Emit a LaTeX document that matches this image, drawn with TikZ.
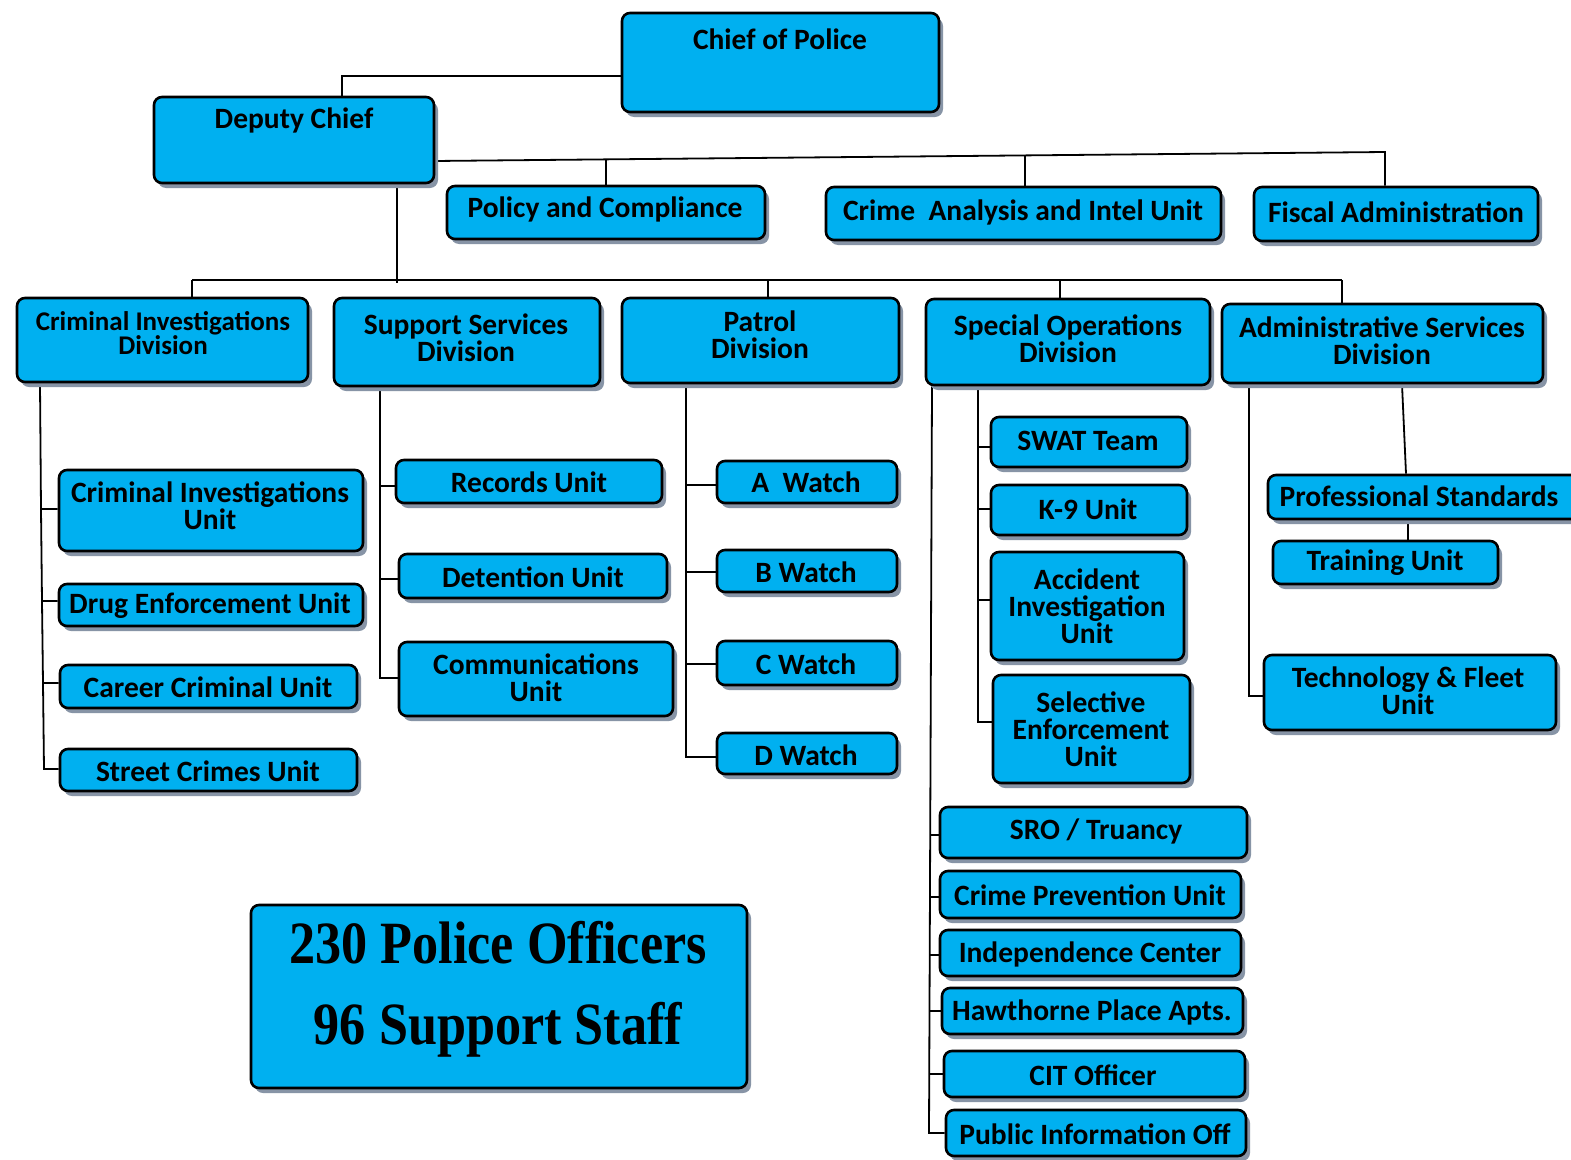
\documentclass[tikz,border=0pt]{standalone}
\usepackage{fontspec}
\setmainfont{Carlito}
\newfontfamily\bigfont{Liberation Serif}
\usetikzlibrary{shadows}
\definecolor{boxblue}{RGB}{0,176,240}
\definecolor{shgray}{RGB}{135,148,166}
\pgfdeclarelayer{background}
\pgfdeclarelayer{bg}
\pgfsetlayers{bg,background,main}
\tikzset{
  ubox/.style={draw=black, line width=2.6pt, fill=boxblue, rounded corners=8pt, inner sep=0pt,
    general shadow={fill=shgray, shadow xshift=4pt, shadow yshift=-5pt}},
  txt/.style={font=\fontsize{29.5}{27}\selectfont\bfseries, align=center, inner sep=0pt},
  bigtxt/.style={font=\bigfont\bfseries\fontsize{60}{60}\selectfont, inner sep=0pt},
  conn/.style={line width=1.8pt, draw=black},
}
\newcommand\bx[5]{\node[ubox, minimum width={#4-#2}, minimum height={#5-#3}] (#1) at ({(#2+#4)/2},{(#3+#5)/2}) {};}
\begin{document}
\begin{tikzpicture}[x=1pt,y=-1pt]
\useasboundingbox (0,0) rectangle (1571,1159);
\begin{pgfonlayer}{bg}
\fill[white] (0,0) rectangle (1571,1159);
\end{pgfonlayer}

% top
\bx{chief}{622}{13}{939}{112}
\node[txt] (chief-t) at (780,39) {Chief of Police};
\bx{dep}{154}{97}{434}{183}
\node[txt] (dep-t) at (294,120) {Deputy Chief};
\bx{pol}{447}{186}{765}{239}
\node[txt] (pol-t) at (605,209) {Policy and Compliance};
\bx{cri}{826}{187}{1221}{240}
\node[txt] (cri-t) at (1023,212) {Crime\ \ Analysis and Intel Unit};
\bx{fis}{1254}{187}{1538}{241}
\node[txt] (fis-t) at (1396,212) {Fiscal Administration};

% divisions
\bx{cid}{17}{298}{308}{382}
\node[txt, font=\fontsize{27}{24}\selectfont\bfseries] (cid-t) at (163,333) {Criminal Investigations\\Division};
\bx{ssd}{334}{298}{600}{386}
\node[txt] (ssd-t) at (466,338) {Support Services\\Division};
\bx{pat}{622}{298}{899}{383}
\node[txt] (pat-t) at (760,335) {Patrol\\Division};
\bx{sod}{926}{299}{1210}{385}
\node[txt] (sod-t) at (1068,339) {Special Operations\\Division};
\bx{asd}{1222}{304}{1543}{383}
\node[txt] (asd-t) at (1382,341) {Administrative Services\\Division};

% CID units
\bx{ciu}{59}{470}{363}{551}
\node[txt] (ciu-t) at (210,506) {Criminal Investigations\\Unit};
\bx{deu}{59}{584}{363}{626}
\node[txt] (deu-t) at (210,606) {Drug Enforcement Unit};
\bx{ccu}{60}{665}{357}{708}
\node[txt] (ccu-t) at (208,687) {Career Criminal Unit};
\bx{scu}{60}{749}{357}{791}
\node[txt] (scu-t) at (208,771) {Street Crimes Unit};

% Support units
\bx{rec}{396}{460}{662}{503}
\node[txt] (rec-t) at (529,482) {Records Unit};
\bx{det}{399}{554}{667}{598}
\node[txt] (det-t) at (533,577) {Detention Unit};
\bx{com}{399}{642}{673}{716}
\node[txt] (com-t) at (536,678) {Communications\\Unit};

% Patrol units
\bx{aw}{717}{461}{897}{503}
\node[txt] (aw-t) at (806,482) {A\ \ Watch};
\bx{bw}{717}{550}{897}{592}
\node[txt] (bw-t) at (806,572) {B Watch};
\bx{cw}{717}{641}{897}{685}
\node[txt] (cw-t) at (806,664) {C Watch};
\bx{dw}{717}{733}{897}{774}
\node[txt] (dw-t) at (806,755) {D Watch};

% Special ops units
\bx{swat}{991}{417}{1187}{467}
\node[txt] (swat-t) at (1088,441) {SWAT Team};
\bx{k9}{991}{485}{1187}{535}
\node[txt] (k9-t) at (1088,509) {K-9 Unit};
\bx{acc}{991}{552}{1184}{660}
\node[txt] (acc-t) at (1087,606) {Accident\\Investigation\\Unit};
\bx{sel}{993}{675}{1190}{783}
\node[txt] (sel-t) at (1091,729) {Selective\\Enforcement\\Unit};
\bx{sro}{940}{807}{1247}{858}
\node[txt] (sro-t) at (1096,831) {SRO / Truancy};
\bx{cpu}{940}{871}{1241}{918}
\node[txt] (cpu-t) at (1090,895) {Crime Prevention Unit};
\bx{ind}{940}{930}{1241}{976}
\node[txt] (ind-t) at (1090,954) {Independence Center};
\bx{haw}{942}{988}{1243}{1034}
\node[txt] (haw-t) at (1092,1012) {Hawthorne Place Apts.};
\bx{cit}{944}{1051}{1245}{1097}
\node[txt] (cit-t) at (1093,1075) {CIT Officer};
\bx{pio}{946}{1110}{1246}{1156}
\node[txt] (pio-t) at (1095,1134) {Public Information Off};

% Admin units
\bx{prs}{1268}{475}{1585}{519}
\node[txt] (prs-t) at (1419,496) {Professional Standards};
\bx{trn}{1273}{541}{1498}{584}
\node[txt] (trn-t) at (1385,563) {Training Unit};
\bx{tec}{1264}{655}{1556}{730}
\node[txt] (tec-t) at (1408,691) {Technology \& Fleet\\Unit};

% big box
\bx{big}{251}{905}{747}{1088}
\node[bigtxt] (big-t1) at (498,943) {\scalebox{0.87}[1]{230 Police Officers}};
\node[bigtxt] (big-t2) at (498,1030) {\scalebox{0.87}[1]{96 Support Staff}};

\begin{pgfonlayer}{background}
% chief to deputy
\draw[conn] (chief.west |- 0,76) -| (dep.north -| 342,0);
% deputy to staff units
\coordinate (t0) at (434,161);
\coordinate (t1) at (1385,152);
\draw[conn] (t0) -- (t1) -- (t1 |- fis.north);
\draw[conn] (606,159.4) -- (pol.north -| 606,0);
\draw[conn] (1025,155.4) -- (cri.north -| 1025,0);
% deputy to divisions
\draw[conn] (dep.south -| 397,0) -- (397,283);
\draw[conn] (192,280) -- (1342,280);
\draw[conn] (192,280) -- (cid.north -| 192,0);
\draw[conn] (768,280) -- (pat.north -| 768,0);
\draw[conn] (1060,280) -- (sod.north -| 1060,0);
\draw[conn] (1342,280) -- (asd.north -| 1342,0);
% CID
\draw[conn] (cid.south -| 40,0) -- (41,509) -- (ciu.west |- 0,509);
\draw[conn] (41,509) -- (42,601) -- (deu.west |- 0,601);
\draw[conn] (42,601) -- (43,683) -- (ccu.west |- 0,683);
\draw[conn] (43,683) -- (44,769) -- (scu.west |- 0,769);
% Support
\draw[conn] (ssd.south -| 380,0) -- (380,678) -- (com.west |- 0,678);
\draw[conn] (380,486) -- (rec.west |- 0,486);
\draw[conn] (380,579) -- (det.west |- 0,579);
% Patrol
\draw[conn] (pat.south -| 686,0) -- (686,757) -- (dw.west |- 0,757);
\draw[conn] (686,485) -- (aw.west |- 0,485);
\draw[conn] (686,572) -- (bw.west |- 0,572);
\draw[conn] (686,664) -- (cw.west |- 0,664);
% Special ops inner
\draw[conn] (sod.south -| 978,0) -- (978,722) -- (sel.west |- 0,722);
\draw[conn] (978,447) -- (swat.west |- 0,447);
\draw[conn] (978,509) -- (k9.west |- 0,509);
\draw[conn] (978,600) -- (acc.west |- 0,600);
% Special ops outer
\draw[conn] (sod.south -| 932,0) -- (929,1133) -- (pio.west |- 0,1133);
\draw[conn] (930.6,835) -- (sro.west |- 0,835);
\draw[conn] (930.4,897) -- (cpu.west |- 0,897);
\draw[conn] (930.2,955) -- (ind.west |- 0,955);
\draw[conn] (930,1011) -- (haw.west |- 0,1011);
\draw[conn] (929.5,1074) -- (cit.west |- 0,1074);
% Admin
\draw[conn] (asd.south -| 1402,0) -- (prs.north -| 1406,0);
\draw[conn] (prs.south -| 1408,0) -- (trn.north -| 1408,0);
\draw[conn] (asd.south -| 1249,0) -- (1249,696) -- (tec.west |- 0,696);
\end{pgfonlayer}
\end{tikzpicture}
\end{document}
